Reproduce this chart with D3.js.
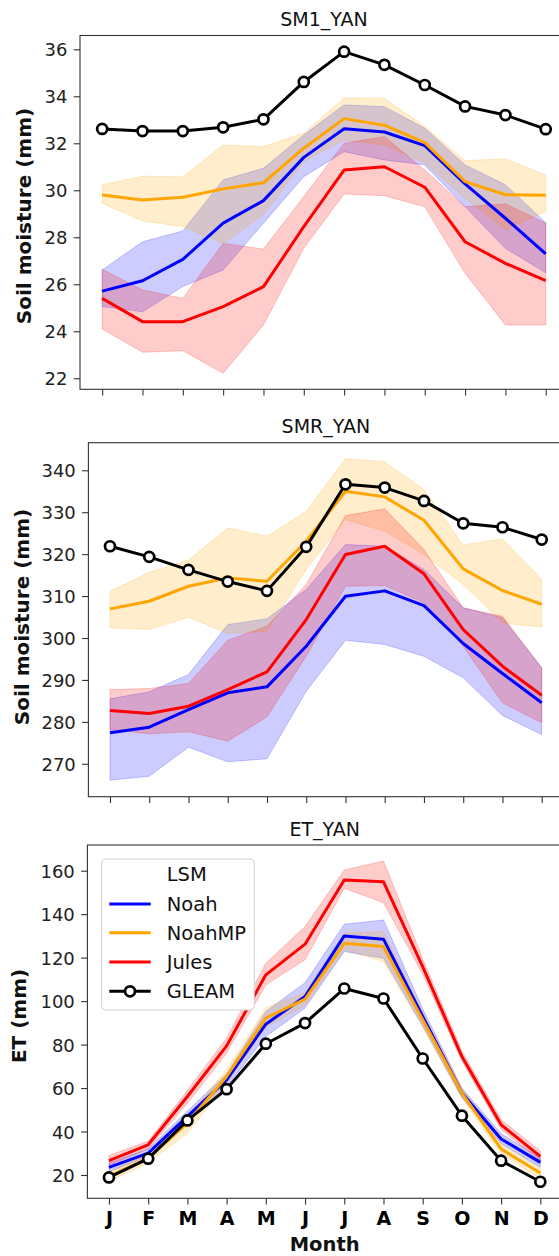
<!DOCTYPE html>
<html>
<head>
<meta charset="utf-8">
<script src="https://cdn.jsdelivr.net/npm/d3@7"></script>
<style>
html,body{margin:0;padding:0;background:#fff;}
svg{display:block;font-family:"DejaVu Sans",sans-serif;}
</style>
</head>
<body>
<svg id="chart" width="559" height="1256"></svg>
<script>
const months = ["J","F","M","A","M","J","J","A","S","O","N","D"];
const seriesNames = ["Noah","NoahMP","Jules"];
const legendTitle = "LSM";
const obsName = "GLEAM";

// SM1_YAN
const sm1Gleam    = [32.61, 32.52, 32.52, 32.68, 33.02, 34.61, 35.90, 35.34, 34.48, 33.57, 33.20, 32.60];
const sm1Noah     = [25.71, 26.15, 27.06, 28.60, 29.56, 31.40, 32.62, 32.48, 31.90, 30.27, 28.81, 27.29];
const sm1NoahLo   = [25.05, 24.83, 25.90, 26.61, 28.60, 30.58, 31.64, 31.29, 31.08, 29.30, 27.53, 26.49];
const sm1NoahHi   = [26.61, 27.81, 28.27, 30.44, 30.94, 32.35, 33.63, 33.56, 32.64, 31.08, 30.23, 28.62];
const sm1NoahMP   = [29.80, 29.59, 29.70, 30.06, 30.32, 31.79, 33.05, 32.77, 32.03, 30.37, 29.81, 29.79];
const sm1NoahMPLo = [29.45, 28.69, 28.45, 27.74, 28.95, 31.22, 32.14, 31.93, 31.15, 29.66, 28.31, 29.09];
const sm1NoahMPHi = [30.23, 30.60, 30.58, 31.93, 31.86, 32.43, 33.93, 33.91, 32.71, 31.26, 31.34, 30.64];
const sm1Jules    = [25.40, 24.41, 24.41, 25.05, 25.90, 28.45, 30.86, 31.00, 30.13, 27.81, 26.89, 26.15];
const sm1JulesLo  = [24.10, 23.11, 23.17, 22.21, 24.27, 27.53, 29.84, 29.77, 29.30, 26.47, 24.27, 24.27];
const sm1JulesHi  = [26.64, 25.76, 25.40, 27.74, 27.50, 29.73, 32.00, 32.28, 30.86, 29.30, 29.42, 28.60];
const sm1Ticks    = [22, 24, 26, 28, 30, 32, 34, 36];

// SMR_YAN
const smrGleam    = [321.88, 319.35, 316.25, 313.46, 311.24, 321.74, 336.66, 335.88, 332.70, 327.36, 326.41, 323.48];
const smrNoah     = [277.39, 278.72, 282.94, 286.92, 288.35, 298.04, 309.96, 311.24, 307.74, 298.68, 291.53, 284.54];
const smrNoahLo   = [266.08, 267.04, 273.96, 270.47, 271.19, 287.31, 299.47, 298.44, 295.65, 290.50, 281.51, 276.98];
const smrNoahHi   = [285.49, 287.16, 291.29, 303.21, 304.57, 311.55, 322.28, 321.88, 316.32, 307.19, 304.81, 292.89];
const smrNoahMP   = [306.95, 308.77, 312.34, 314.34, 313.53, 323.07, 334.99, 333.66, 328.08, 316.49, 311.32, 308.05];
const smrNoahMPLo = [302.42, 302.02, 304.95, 301.06, 301.61, 316.32, 328.25, 325.46, 319.90, 312.75, 303.61, 302.56];
const smrNoahMPHi = [311.15, 315.68, 318.54, 326.27, 324.26, 330.22, 342.79, 342.00, 335.40, 322.21, 323.64, 313.94];
const smrJules    = [282.70, 281.99, 283.73, 287.71, 291.93, 304.40, 319.90, 321.88, 315.30, 302.02, 293.27, 286.35];
const smrJulesLo  = [278.18, 277.15, 277.62, 275.39, 281.20, 295.65, 312.34, 312.51, 308.39, 298.04, 284.54, 279.77];
const smrJulesHi  = [287.71, 287.95, 289.14, 299.47, 302.80, 312.75, 329.20, 330.80, 321.09, 307.19, 305.19, 292.89];
const smrTicks    = [270, 280, 290, 300, 310, 320, 330, 340];

// ET_YAN
const etGleam    = [18.9, 27.5, 45.1, 59.5, 80.4, 89.9, 105.8, 101.2, 73.6, 47.3, 26.6, 16.9];
const etNoah     = [23.5, 30.1, 47.0, 63.8, 89.4, 102.1, 130.0, 128.5, 92.9, 57.7, 36.6, 25.8];
const etNoahLo   = [21.5, 28.5, 44.5, 60.5, 83.7, 96.8, 122.8, 119.7, 88.5, 55.5, 34.5, 23.5];
const etNoahHi   = [25.5, 32.0, 49.5, 66.5, 95.2, 108.5, 135.4, 137.3, 96.5, 60.0, 39.0, 28.0];
const etNoahMP   = [19.4, 27.8, 43.9, 65.3, 92.2, 100.9, 126.6, 125.1, 91.4, 57.7, 32.0, 20.9];
const etNoahMPLo = [17.0, 25.5, 39.3, 62.0, 88.0, 98.0, 123.6, 118.2, 88.0, 55.5, 29.5, 18.5];
const etNoahMPHi = [21.5, 30.0, 47.0, 68.5, 97.0, 104.0, 131.2, 132.0, 94.5, 60.0, 34.5, 23.0];
const etJules    = [26.6, 33.9, 56.1, 79.4, 112.1, 126.2, 155.7, 154.9, 115.9, 74.5, 43.1, 28.6];
const etJulesLo  = [24.5, 32.0, 53.0, 76.0, 107.5, 119.0, 151.9, 145.3, 112.5, 72.5, 41.0, 26.5];
const etJulesHi  = [29.0, 35.5, 59.0, 83.0, 117.4, 134.3, 160.3, 164.5, 119.5, 77.0, 45.5, 31.0];
const etTicks    = [20, 40, 60, 80, 100, 120, 140, 160];

const colors = {Noah: "#0000ff", NoahMP: "#ffa500", Jules: "#ff0000"};

const svg = d3.select("#chart");
const FONT = "DejaVu Sans";

const panels = [
  {title: "SM1_YAN", ylabel: "Soil moisture (mm)", left: 80, right: 567.9, top: 35.5, bottom: 389.3,
   ydom: [21.53, 36.587], ticks: sm1Ticks, ylabX: 30.7, ylabY: 216, xlabels: false,
   obs: sm1Gleam,
   models: [[sm1Noah, sm1NoahLo, sm1NoahHi], [sm1NoahMP, sm1NoahMPLo, sm1NoahMPHi], [sm1Jules, sm1JulesLo, sm1JulesHi]]},
  {title: "SMR_YAN", ylabel: "Soil moisture (mm)", left: 88.4, right: 563.3, top: 442.7, bottom: 796.7,
   ydom: [262.15, 346.58], ticks: smrTicks, ylabX: 29.1, ylabY: 617, xlabels: false,
   obs: smrGleam,
   models: [[smrNoah, smrNoahLo, smrNoahHi], [smrNoahMP, smrNoahMPLo, smrNoahMPHi], [smrJules, smrJulesLo, smrJulesHi]]},
  {title: "ET_YAN", ylabel: "ET (mm)", left: 87.4, right: 561.9, top: 845, bottom: 1198.3,
   ydom: [9.28, 171.82], ticks: etTicks, ylabX: 25.7, ylabY: 1016, xlabels: true, legend: true,
   obs: etGleam,
   models: [[etNoah, etNoahLo, etNoahHi], [etNoahMP, etNoahMPLo, etNoahMPHi], [etJules, etJulesLo, etJulesHi]]}
];

panels.forEach((p, pi) => {
  const x = d3.scaleLinear().domain([-0.55, 11.55]).range([p.left, p.right]);
  const y = d3.scaleLinear().domain(p.ydom).range([p.bottom, p.top]);
  const g = svg.append("g");
  const clipId = "clip" + pi;
  svg.append("clipPath").attr("id", clipId).append("rect")
    .attr("x", p.left).attr("y", p.top).attr("width", p.right - p.left).attr("height", p.bottom - p.top);
  const plot = g.append("g").attr("clip-path", `url(#${clipId})`);

  const idx = d3.range(12);
  const area = (lo, hi) => d3.area().x(i => x(i)).y0(i => y(lo[i])).y1(i => y(hi[i]))(idx);
  const line = (v) => d3.line().x(i => x(i)).y(i => y(v[i]))(idx);

  // bands
  p.models.forEach((m, k) => {
    const c = colors[seriesNames[k]];
    plot.append("path").attr("d", area(m[1], m[2]))
      .attr("fill", c).attr("fill-opacity", 0.2)
      .attr("stroke", c).attr("stroke-opacity", 0.2).attr("stroke-width", 1);
  });
  // lines
  p.models.forEach((m, k) => {
    const c = colors[seriesNames[k]];
    plot.append("path").attr("d", line(m[0]))
      .attr("fill", "none").attr("stroke", c).attr("stroke-width", 3)
      .attr("stroke-linejoin", "round").attr("stroke-linecap", "butt");
  });
  // obs
  plot.append("path").attr("d", line(p.obs))
    .attr("fill", "none").attr("stroke", "#000").attr("stroke-width", 3).attr("stroke-linejoin", "round");
  plot.selectAll("circle.obs").data(idx).join("circle").attr("class", "obs")
    .attr("cx", i => x(i)).attr("cy", i => y(p.obs[i])).attr("r", 5)
    .attr("fill", "#fff").attr("stroke", "#000").attr("stroke-width", 2.7);

  // y axis
  const yAxis = d3.axisLeft(y).tickValues(p.ticks).tickSize(6.3).tickPadding(6.3).tickFormat(d3.format("d"));
  const ya = g.append("g").attr("transform", `translate(${p.left},0)`).call(yAxis);
  ya.select(".domain").remove();
  ya.selectAll("line").attr("stroke", "#333").attr("stroke-width", 1.1);
  ya.selectAll("text").attr("font-family", FONT).attr("font-size", 18).attr("fill", "#222").attr("dy", "0.36em");

  // x axis
  const xAxis = d3.axisBottom(x).tickValues(idx).tickSize(6.3).tickPadding(6.3)
    .tickFormat(i => p.xlabels ? months[i] : "");
  const xa = g.append("g").attr("transform", `translate(0,${p.bottom})`).call(xAxis);
  xa.select(".domain").remove();
  xa.selectAll("line").attr("stroke", "#333").attr("stroke-width", 1.1);
  xa.selectAll("text").attr("font-family", FONT).attr("font-size", 19).attr("font-weight", "bold")
    .attr("fill", "#000").attr("dy", "0").attr("y", 27);

  // spines
  g.append("rect").attr("x", p.left).attr("y", p.top)
    .attr("width", p.right - p.left).attr("height", p.bottom - p.top)
    .attr("fill", "none").attr("stroke", "#333").attr("stroke-width", 1.1);

  // title
  g.append("text").attr("x", (p.left + p.right) / 2).attr("y", p.top - 9.5)
    .attr("text-anchor", "middle").attr("font-family", FONT).attr("font-size", 19).attr("fill", "#111")
    .text(p.title);

  // y label
  g.append("text").attr("transform", `translate(${p.ylabX},${p.ylabY}) rotate(-90)`)
    .attr("text-anchor", "middle").attr("font-family", FONT).attr("font-size", 20)
    .attr("font-weight", "bold").attr("fill", "#111").text(p.ylabel);

  if (p.xlabels) {
    g.append("text").attr("x", (p.left + p.right) / 2).attr("y", 1251)
      .attr("text-anchor", "middle").attr("font-family", FONT).attr("font-size", 19.5)
      .attr("font-weight", "bold").attr("fill", "#111").text("Month");
  }

  if (p.legend) {
    const lg = g.append("g");
    lg.append("rect").attr("x", 101.7).attr("y", 859).attr("width", 152.6).attr("height", 151)
      .attr("rx", 4).attr("fill", "#fff").attr("stroke", "#d0d0d0").attr("stroke-width", 1);
    const tx = 166.7;
    const rows = [874.3, 904, 932.7, 962, 991.3];
    const fs = 19.5;
    lg.append("text").attr("x", tx).attr("y", rows[0]).attr("dy", "0.36em")
      .attr("font-family", FONT).attr("font-size", fs).attr("fill", "#111").text(legendTitle);
    seriesNames.forEach((s, k) => {
      lg.append("line").attr("x1", 109.3).attr("x2", 150.7).attr("y1", rows[k + 1]).attr("y2", rows[k + 1])
        .attr("stroke", colors[s]).attr("stroke-width", 3);
      lg.append("text").attr("x", tx).attr("y", rows[k + 1]).attr("dy", "0.36em")
        .attr("font-family", FONT).attr("font-size", fs).attr("fill", "#111").text(s);
    });
    lg.append("line").attr("x1", 109.3).attr("x2", 150.7).attr("y1", rows[4]).attr("y2", rows[4])
      .attr("stroke", "#000").attr("stroke-width", 3);
    lg.append("circle").attr("cx", 130).attr("cy", rows[4]).attr("r", 5)
      .attr("fill", "#fff").attr("stroke", "#000").attr("stroke-width", 2.7);
    lg.append("text").attr("x", tx).attr("y", rows[4]).attr("dy", "0.36em")
      .attr("font-family", FONT).attr("font-size", fs).attr("fill", "#111").text(obsName);
  }
});
</script>
</body>
</html>
